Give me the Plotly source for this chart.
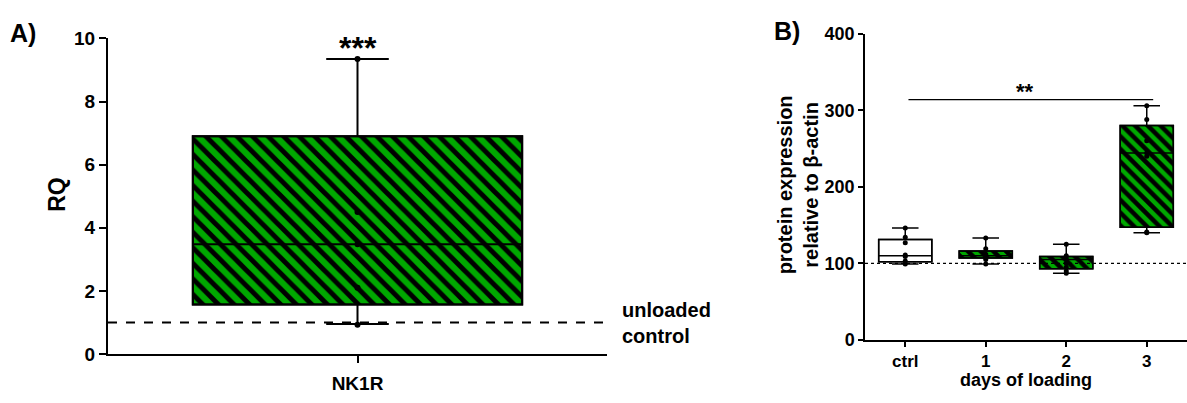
import plotly.graph_objects as go

# ---------------- data ----------------
# Panel A
a_categories = ["NK1R"]
a_q1 = [1.57]
a_median = [3.48]
a_q3 = [6.9]
a_low = [0.95]
a_high = [9.35]
a_points = [9.35, 4.5, 3.48, 2.1, 0.93]
a_ticks = [0, 2, 4, 6, 8, 10]

# Panel B
b_categories = ["ctrl", "1", "2", "3"]
b_q1 = [102, 107, 93, 147]
b_median = [110, 110, 105, 244]
b_q3 = [131, 116, 109, 280]
b_low = [99, 99, 87, 140]
b_high = [146, 133, 125, 306]
b_points = {
    "ctrl": [146, 134, 127, 111, 109, 103, 99],
    "1": [133, 119, 112, 108, 105, 99],
    "2": [125, 110, 106, 100, 95, 90, 87],
    "3": [306, 288, 260, 244, 240, 141, 140],
}
b_ticks = [0, 100, 200, 300, 400]

GREEN = "#00A800"
FONT = "Arial, Liberation Sans, sans-serif"
W, H = 1187, 403

def px_x(p):
    return p / W

def px_y(p):
    return 1 - p / H

fig = go.Figure()

# ---------------- Panel A ----------------
fig.add_trace(go.Bar(
    x=a_categories, base=a_q1, y=[q3 - q1 for q1, q3 in zip(a_q1, a_q3)],
    width=0.66, xaxis="x", yaxis="y",
    marker=dict(color=GREEN, line=dict(color="black", width=2),
                pattern=dict(shape="\\", fgcolor="black", bgcolor=GREEN,
                             size=11, solidity=0.45, fillmode="replace")),
    hoverinfo="skip",
))
fig.add_trace(go.Box(
    x=a_categories, q1=a_q1, median=a_median, q3=a_q3,
    lowerfence=a_low, upperfence=a_high, width=0.66, whiskerwidth=0.19,
    fillcolor="rgba(0,0,0,0)", line=dict(color="black", width=2),
    boxpoints=False, xaxis="x", yaxis="y",
))
fig.add_trace(go.Scatter(
    x=a_categories * len(a_points), y=a_points, mode="markers",
    marker=dict(color="black", size=6), xaxis="x", yaxis="y",
))

# ---------------- Panel B ----------------
# control box: plain white
fig.add_trace(go.Bar(
    x=b_categories[:1], base=b_q1[:1], y=[b_q3[0] - b_q1[0]],
    width=0.66, xaxis="x2", yaxis="y2",
    marker=dict(color="white", line=dict(color="black", width=1.5)),
    hoverinfo="skip",
))
# loaded boxes: green with black diagonal hatching
fig.add_trace(go.Bar(
    x=b_categories[1:], base=b_q1[1:],
    y=[q3 - q1 for q1, q3 in zip(b_q1[1:], b_q3[1:])],
    width=0.66, xaxis="x2", yaxis="y2",
    marker=dict(color=GREEN, line=dict(color="black", width=1.5),
                pattern=dict(shape="\\", fgcolor="black", bgcolor=GREEN,
                             size=9, solidity=0.5, fillmode="replace")),
    hoverinfo="skip",
))
fig.add_trace(go.Box(
    x=b_categories, q1=b_q1, median=b_median, q3=b_q3,
    lowerfence=b_low, upperfence=b_high, width=0.66, whiskerwidth=0.5,
    fillcolor="rgba(0,0,0,0)", line=dict(color="black", width=1.5),
    boxpoints=False, xaxis="x2", yaxis="y2",
))
for cat, pts in b_points.items():
    fig.add_trace(go.Scatter(
        x=[cat] * len(pts), y=pts, mode="markers",
        marker=dict(color="black", size=5), xaxis="x2", yaxis="y2",
    ))

tickfont_a = dict(family=FONT, size=19, color="black", weight="bold")
tickfont_b = dict(family=FONT, size=18, color="black", weight="bold")
tickfont_bx = dict(family=FONT, size=17, color="black", weight="bold")

fig.update_layout(
    width=W, height=H, margin=dict(l=0, r=0, t=0, b=0),
    paper_bgcolor="white", plot_bgcolor="white", showlegend=False,
    barmode="overlay", boxmode="overlay",
    xaxis=dict(domain=[px_x(108), px_x(607)], range=[-0.5, 0.5],
               showline=True, linecolor="black", linewidth=2,
               ticks="outside", ticklen=7, tickwidth=2, tickcolor="black",
               ticklabelstandoff=4,
               showgrid=False, zeroline=False, tickfont=tickfont_a, anchor="y"),
    yaxis=dict(domain=[px_y(363), px_y(30)], range=[0, 10],
               tickvals=a_ticks, showline=True, linecolor="black", linewidth=2,
               ticks="outside", ticklen=7, tickwidth=2, tickcolor="black",
               showgrid=False, zeroline=False, tickfont=tickfont_a, anchor="x"),
    xaxis2=dict(domain=[px_x(865), 1.0], range=[-0.5, 3.5],
                showline=True, linecolor="black", linewidth=1.5,
                ticks="outside", ticklen=5, tickwidth=1.5, tickcolor="black",
                ticklabelstandoff=0,
                showgrid=False, zeroline=False, tickfont=tickfont_bx, anchor="y2"),
    yaxis2=dict(domain=[px_y(348), px_y(25)], range=[0, 400],
                tickvals=b_ticks, showline=True, linecolor="black", linewidth=1.5,
                ticks="outside", ticklen=5, tickwidth=1.5, tickcolor="black",
                showgrid=False, zeroline=False, tickfont=tickfont_b, anchor="x2"),
)

# reference lines
fig.add_shape(type="line", xref="x domain", yref="y", x0=0, x1=1, y0=1, y1=1,
              line=dict(color="black", width=2, dash="dash"))
fig.add_shape(type="line", xref="x2 domain", yref="y2", x0=0, x1=1, y0=100, y1=100,
              line=dict(color="black", width=1.2, dash="dot"))
fig.add_shape(type="line", xref="x2", yref="y2", x0=0.04, x1=3.08, y0=314, y1=314,
              line=dict(color="black", width=1.2))

def txt(text, x, y, size, xanchor="center", yanchor="middle", textangle=0, align="center", **kw):
    fig.add_annotation(text=text, x=x, y=y, showarrow=False, xanchor=xanchor,
                       yanchor=yanchor, textangle=textangle, align=align,
                       font=dict(family=FONT, size=size, color="black", weight="bold"), **kw)

txt("A)", px_x(8), px_y(24), 25, xanchor="left", xref="paper", yref="paper")
txt("B)", px_x(772), px_y(22), 25, xanchor="left", xref="paper", yref="paper")
txt("RQ", px_x(57), px_y(195), 23, textangle=-90, xref="paper", yref="paper")
txt("***", "NK1R", a_high[0], 32, yanchor="bottom", xref="x", yref="y", yshift=-9)
txt("unloaded<br>control", px_x(620), px_y(330), 20, xanchor="left", align="left",
    xref="paper", yref="paper")
txt("protein expression<br>relative to β-actin", px_x(798), px_y(185), 20,
    textangle=-90, xref="paper", yref="paper")
txt("days of loading", px_x(1026), px_y(390), 18, xref="paper", yref="paper")
txt("**", 1.49, 314, 22, yanchor="bottom", xref="x2", yref="y2", yshift=-6)

fig.write_html("out.html")
